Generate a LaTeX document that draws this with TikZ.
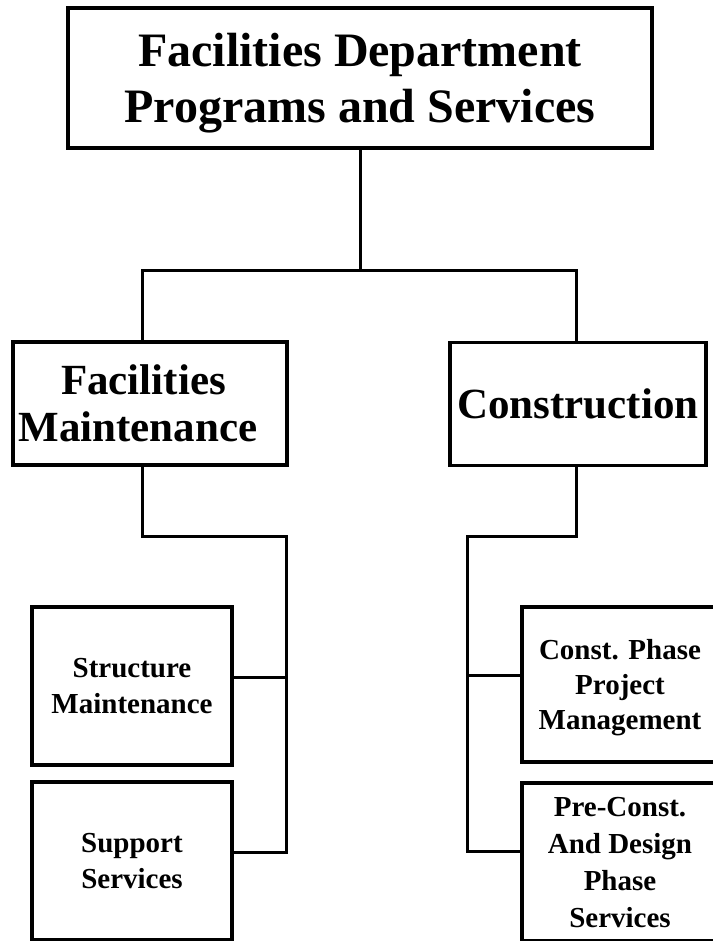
\documentclass[tikz,border=0pt]{standalone}
\usepackage{fontspec}
\setmainfont{Liberation Serif}
\begin{document}
\begin{tikzpicture}[x=1pt,y=-1pt,
  box/.style={draw=black,line width=3.3pt,rectangle,inner sep=0pt,align=center,fill=white,text depth=0pt},
  bigt/.style={font=\fontsize{48}{56}\selectfont\bfseries},
  midt/.style={font=\fontsize{43}{47}\selectfont\bfseries},
  smallt/.style={font=\fontsize{29}{36}\selectfont\bfseries},
  conn/.style={line width=3pt,line join=miter}]
\useasboundingbox (0,0) rectangle (712,941);
\fill[white] (0,0) rectangle (712,941);
% nodes
\node[box,bigt,minimum width=584pt,minimum height=140pt] (top) at (360,78) {Facilities Department\\Programs and Services};
\node[box,midt,minimum width=274pt,minimum height=123pt] (fm) at (150,403.5) {Facilities\hspace*{13pt}\\Maintenance\hspace*{24pt}};
\node[box,midt,minimum width=256pt,minimum height=123pt] (con) at (578,404) {Construction};
\node[box,smallt,minimum width=200pt,minimum height=158pt] (sm) at (132,686) {Structure\\Maintenance};
\node[box,smallt,minimum width=200pt,minimum height=158pt] (ss) at (132,861) {Support\\Services};
\node[box,smallt,font=\fontsize{29}{35}\selectfont\bfseries,minimum width=196pt,minimum height=155pt] (cp) at (620,684.5) {Const. Phase\\Project\\Management};
\node[box,smallt,font=\fontsize{29}{37}\selectfont\bfseries,minimum width=196pt,minimum height=158pt] (pc) at (620,862) {Pre-Const.\\And Design\\Phase\\Services};
% junction coordinates
\coordinate (j1) at (360,270);
\coordinate (fmtop) at (142,342);
\coordinate (ctop) at (576,342);
\coordinate (fmbot) at (142,465);
\coordinate (fmj) at (286,536);
\coordinate (cbot) at (576,465);
\coordinate (cj) at (467,536);
\coordinate (sme) at (232,677);
\coordinate (sse) at (232,852);
\coordinate (cpw) at (522,675);
\coordinate (pcw) at (522,851);
% connectors
\draw[conn] (top.south) -- (j1);
\draw[conn] (fmtop) |- (j1) -| (ctop);
\draw[conn] (fmbot) |- (fmj) |- (sse);
\draw[conn] (sme) -- (sme -| fmj);
\draw[conn] (cbot) |- (cj) |- (pcw);
\draw[conn] (cpw) -- (cpw -| cj);
\end{tikzpicture}
\end{document}
